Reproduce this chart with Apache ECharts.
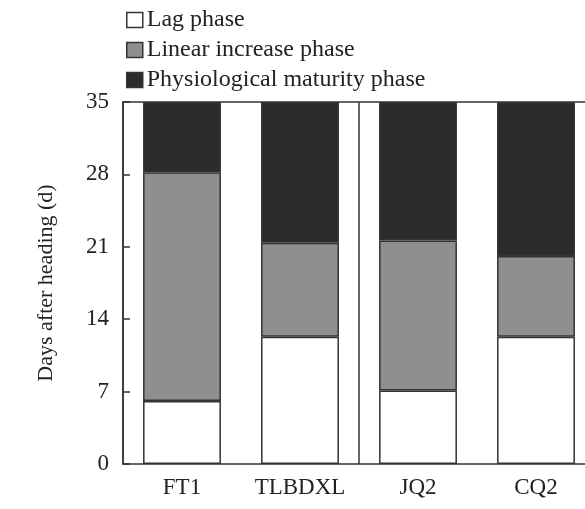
<!DOCTYPE html>
<html lang="en">
<head>
    <meta charset="UTF-8">
    <title>Grain filling phases</title>
    <style>
        html, body { margin: 0; padding: 0; background: #fff; }
        #phaseChart { width: 585px; height: 509px; }
    </style>
</head>
<body>
<div id="phaseChart"></div>
<script src="https://cdn.jsdelivr.net/npm/echarts@6/dist/echarts.min.js"></script>
<script type="text/javascript">
    var cultivars = ['FT1', 'TLBDXL', 'JQ2', 'CQ2'];
    var lagPhase = [6.1, 12.3, 7.1, 12.3];
    var linearPhase = [22.1, 9.1, 14.5, 7.8];
    var maturityPhase = [6.8, 13.6, 13.4, 14.9];
    var yTicks = [0, 7, 14, 21, 28, 35];

    var serif = '"Liberation Serif", "DejaVu Serif", serif';
    var edge = '#333';

    function phase(name, color, data) {
        return {
            name: name,
            type: 'bar',
            stack: 'days',
            barWidth: '66%',
            data: data,
            itemStyle: { color: color, borderColor: edge, borderWidth: 1.5 }
        };
    }

    var myChart = echarts.init(document.getElementById('phaseChart'));
    var option = {
        animation: false,
        legend: {
            orient: 'vertical',
            left: 121,
            top: 3,
            itemWidth: 16,
            itemHeight: 15,
            itemGap: 6,
            icon: 'rect',
            itemStyle: { borderColor: edge, borderWidth: 1.5 },
            textStyle: { fontFamily: serif, fontSize: 24, color: '#222', padding: [0, 0, 0, -1] }
        },
        grid: {
            left: 123,
            right: -10,
            top: 102,
            bottom: 45,
            outerBoundsMode: 'none',
            containLabel: false
        },
        xAxis: [
            {
                type: 'category',
                data: cultivars,
                axisLine: { lineStyle: { color: edge, width: 1.5 } },
                axisTick: { show: false },
                axisLabel: { fontFamily: serif, fontSize: 23, color: '#222', margin: 12 }
            },
            {
                // top frame line and the panel divider
                type: 'value',
                position: 'top',
                min: 0,
                max: 4,
                interval: 2,
                axisLine: { show: true, lineStyle: { color: edge, width: 1.5 } },
                axisTick: { show: false },
                axisLabel: { show: false },
                splitLine: { show: true, lineStyle: { color: edge, width: 1.5 } }
            }
        ],
        yAxis: {
            type: 'value',
            min: 0,
            max: 35,
            interval: 7,
            name: 'Days after heading (d)',
            nameLocation: 'middle',
            nameGap: 66,
            nameTextStyle: { fontFamily: serif, fontSize: 22, color: '#222' },
            axisLine: { show: true, lineStyle: { color: edge, width: 1.5 } },
            axisTick: { show: true, inside: true, length: 7, lineStyle: { color: edge, width: 1.5 } },
            axisLabel: {
                fontFamily: serif, fontSize: 23, color: '#222', margin: 14,
                formatter: function (v) { return yTicks.indexOf(v) >= 0 ? v : ''; }
            },
            splitLine: { show: false }
        },
        series: [
            phase('Lag phase', '#ffffff', lagPhase),
            phase('Linear increase phase', '#8f8f91', linearPhase),
            phase('Physiological maturity phase', '#2b2b2b', maturityPhase)
        ]
    };
    myChart.setOption(option);
</script>
</body>
</html>
